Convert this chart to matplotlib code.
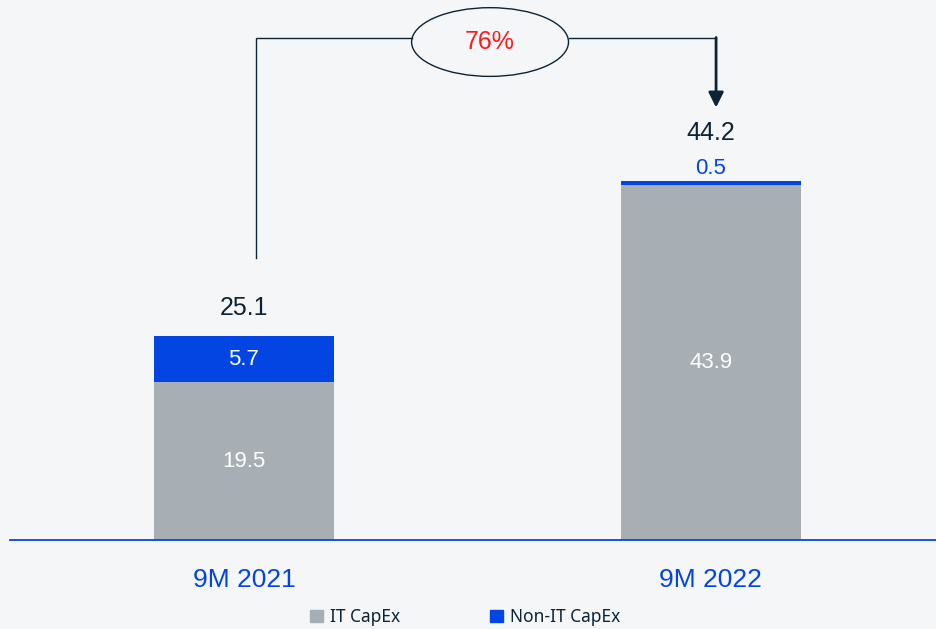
import matplotlib.pyplot as plt
from matplotlib.patches import Ellipse, Patch

periods = ["9M 2021", "9M 2022"]
it_capex = [19.5, 43.9]
non_it_capex = [5.7, 0.5]
totals = [25.1, 44.2]
growth_label = "76%"

BG = "#f4f6f8"
GREY = "#a7afb5"
BLUE = "#0345e2"
NAVY = "#0d2436"


def main():
    fig = plt.figure(figsize=(9.36, 6.29), dpi=100, facecolor=BG)
    ax = fig.add_axes([0.0107, 89 / 629, 0.9893, 540 / 629])
    ax.set_facecolor(BG)

    x = list(range(len(periods)))
    width = 0.385
    ax.bar(x, it_capex, width, color=GREY, label="IT CapEx")
    ax.bar(x, non_it_capex, width, bottom=it_capex, color=BLUE, label="Non-IT CapEx")

    ax.set_xlim(-0.501, 1.482)
    ax.set_ylim(0, 66.8)

    num_font = "Liberation Sans"
    for i in x:
        ax.text(i, it_capex[i] / 2, f"{it_capex[i]:.1f}", ha="center", va="center",
                color="white", fontsize=16, family=num_font)
        top = it_capex[i] + non_it_capex[i]
        if non_it_capex[i] > 2:
            ax.text(i, it_capex[i] + non_it_capex[i] / 2, f"{non_it_capex[i]:.1f}",
                    ha="center", va="center", color="white", fontsize=16, family=num_font)
            ax.text(i, top + 3.5, f"{totals[i]:.1f}", ha="center", va="center",
                    color=NAVY, fontsize=18, family=num_font)
        else:
            # thin segment: label sits just above it
            ax.text(i, top + 1.6, f"{non_it_capex[i]:.1f}", ha="center", va="center",
                    color=BLUE, fontsize=16, family=num_font)
            ax.text(i, top + 6.0, f"{totals[i]:.1f}", ha="center", va="center",
                    color=NAVY, fontsize=18, family=num_font)

    # growth connector between the two totals
    y_top = 62.1
    x0, x1 = 0.026, 1.011
    ell_cx, ell_w, ell_h = 0.527, 0.336, 8.5
    ax.plot([x0, x0, ell_cx - ell_w / 2], [totals[0] + 9.8, y_top, y_top],
            color=NAVY, lw=1.0, solid_joinstyle="miter")
    ax.plot([ell_cx + ell_w / 2, x1], [y_top, y_top], color=NAVY, lw=1.0)
    ax.annotate("", xy=(x1, totals[1] + 9.3), xytext=(x1, y_top + 0.06),
                arrowprops=dict(arrowstyle="-|>,head_length=0.9,head_width=0.45",
                                color=NAVY, lw=2.0, shrinkA=0, shrinkB=0))
    ax.add_patch(Ellipse((ell_cx, y_top - 0.5), ell_w, ell_h, facecolor=BG,
                         edgecolor=NAVY, lw=1.0))
    ax.text(ell_cx, y_top - 0.5, growth_label, ha="center", va="center",
            color="#ff1a1a", fontsize=18, family=num_font)

    for side in ["top", "right", "left"]:
        ax.spines[side].set_visible(False)
    ax.spines["bottom"].set_color(BLUE)
    ax.spines["bottom"].set_linewidth(1.3)
    ax.set_yticks([])
    ax.set_xticks(x)
    ax.set_xticklabels(periods, color=BLUE, fontsize=19, family=num_font)
    ax.tick_params(axis="x", length=0, pad=20)

    handles = [Patch(color=GREY), Patch(color=BLUE)]
    fig.legend(handles, ["IT CapEx", "Non-IT CapEx"], loc="center",
               bbox_to_anchor=(0.497, 0.019), ncol=2, frameon=False,
               handlelength=0.75, handleheight=0.75, handletextpad=0.4,
               columnspacing=5.2, prop={"family": "Noto Sans", "size": 12.5},
               labelcolor=NAVY)

    fig.savefig("out.png", dpi=100, facecolor=BG)
    plt.close(fig)


if __name__ == "__main__":
    main()
